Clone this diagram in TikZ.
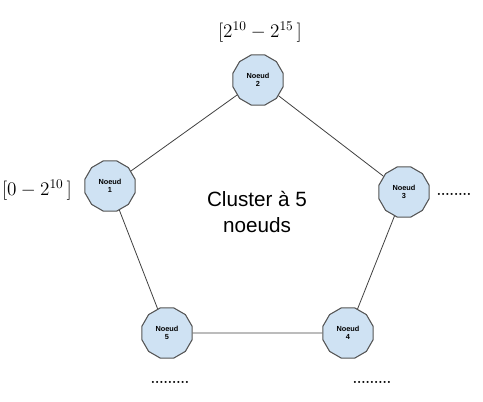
\documentclass[tikz,border=0pt]{standalone}
\usepackage{fontspec}
\setsansfont{Liberation Sans}
\usetikzlibrary{shapes.geometric}
\usepackage{xcolor}
\usepackage{amsmath, amssymb}
\definecolor{nodefill}{HTML}{CFE2F3}
\definecolor{nodeline}{HTML}{555555}

\begin{document}
\begin{tikzpicture}[x=0.75pt, y=-0.75pt]
        % ================= Styles =================
        \tikzset{
            % noeud : dodecagone bleu clair
            cnode/.style={regular polygon, regular polygon sides=12, draw=nodeline, thick, fill=nodefill,
                          minimum size=39pt, inner sep=0pt, align=center, font=\sffamily\bfseries\fontsize{5.5}{6.5}\selectfont},
            % arete
            edge/.style={semithick, black!75},
            % etiquettes
            rlabel/.style={font=\fontsize{14}{16}\selectfont},
            dots/.style={font=\bfseries\normalsize}
        }

        \useasboundingbox (0,0) rectangle (483,402);

        % ================= Noeuds (pentagone) =================
        \node[cnode] (n1) at (110, 186) {Noeud\\1};
        \node[cnode] (n2) at (258, 80) {Noeud\\2};
        \node[cnode] (n3) at (404, 192) {Noeud\\3};
        \node[cnode] (n4) at (348, 333) {Noeud\\4};
        \node[cnode] (n5) at (167, 333) {Noeud\\5};

        % ================= Aretes =================
        \draw[edge] (n1) -- (n2);
        \draw[edge] (n2) -- (n3);
        \draw[edge] (n3) -- (n4);
        \draw[edge] (n4) -- (n5);
        \draw[edge] (n5) -- (n1);

        % ================= Textes =================
        \node[align=center, font=\sffamily\fontsize{15.5}{19}\selectfont] (title) at (257, 212) {Cluster à 5\\noeuds};
        \node[rlabel] (r2) at (260, 32) {$[2^{10} - 2^{15}\,]$};
        \node[rlabel] (r1) at (37, 190) {$[0 - 2^{10}\,]$};
        \node[dots] (d3) at (454, 194) {........};
        \node[dots] (d5) at (170, 382) {.........};
        \node[dots] (d4) at (372, 382) {.........};

    \end{tikzpicture}
\end{document}
